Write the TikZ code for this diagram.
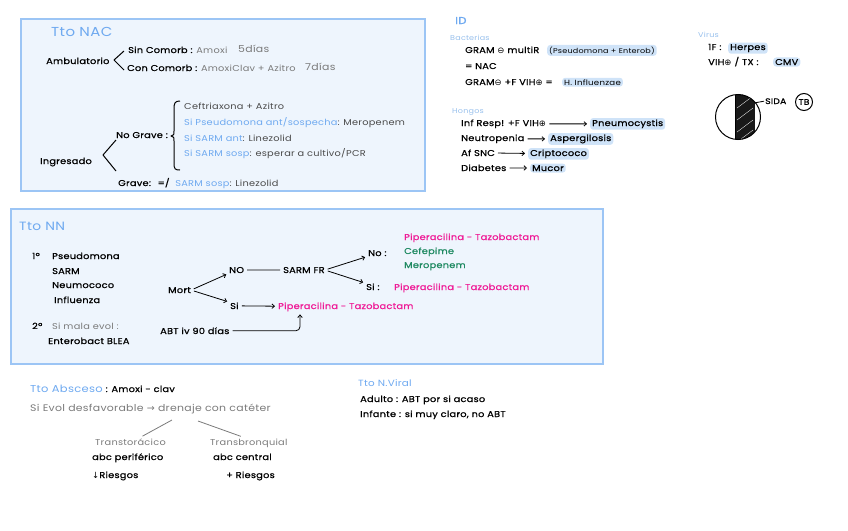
\documentclass[tikz,border=0pt]{standalone}
\usepackage{fontspec}
\setmainfont{Poppins}[FakeStretch=1.15, LetterSpace=3]
\newfontfamily\bkf{Poppins}[FakeStretch=1.15, LetterSpace=3, FakeBold=0.9]
\newfontfamily\symf{DejaVu Sans}
\usetikzlibrary{arrows.meta,calc}
\definecolor{boxfill}{HTML}{EEF5FD}
\definecolor{boxline}{HTML}{9CC5F5}
\definecolor{ttl}{HTML}{6EA9F0}
\definecolor{lbl}{HTML}{98C0EC}
\definecolor{gry}{HTML}{7A7A7A}
\definecolor{dgr}{HTML}{4A4A4A}
\definecolor{mag}{HTML}{EE1A96}
\definecolor{grn}{HTML}{1F8A62}
\definecolor{hlc}{HTML}{CFE3F8}
\newcommand{\mns}{{\symf ⊖}}
\newcommand{\pls}{{\symf ⊕}}
\newcommand{\gt}[1]{{\rmfamily\color{gry}#1}}
\newcommand{\bt}[1]{{\rmfamily\color{ttl}#1}}
\newcommand{\dt}[1]{{\rmfamily\color{dgr}#1}}
\begin{document}
\begin{tikzpicture}[x=1pt,y=-1pt,
  txt/.style={anchor=base west, inner sep=0pt, font=\bkf\fontsize{8.5}{10}\selectfont, text=black},
  thin/.style={txt, font=\rmfamily\fontsize{8.5}{10}\selectfont},
  ttlst/.style={txt, font=\rmfamily\fontsize{11}{13}\selectfont, text=ttl},
  sub/.style={txt, font=\rmfamily\fontsize{7}{8}\selectfont, text=lbl},
  hl/.style={txt, fill=hlc, rounded corners=3pt, inner xsep=2pt, inner ysep=1.5pt},
  boxst/.style={draw=boxline, fill=boxfill, line width=1.2pt},
  arr/.style={-{Straight Barb[length=2.5pt,width=4.5pt]}, line width=0.8pt, shorten <=3pt, shorten >=3pt},
  ln/.style={line width=0.8pt, shorten <=3pt, shorten >=3pt},
  angl/.style={line width=1pt, line join=round}
]
\useasboundingbox (0,0) rectangle (848,530);
% boxes
\draw[boxst] (21,19) rectangle (425,191);
\draw[boxst] (11,209) rectangle (603,364);

% ---------------- Tto NAC
\node[ttlst, font=\rmfamily\fontsize{13}{15}\selectfont] (t1) at (51,36) {Tto NAC};
\node[txt] (amb) at (46,64) {Ambulatorio};
\draw[angl] (124,51) -- (114,60) -- (124,70);
\node[txt] (sin) at (128,53) {Sin Comorb : \gt{Amoxi}};
\node[thin, text=gry, font=\rmfamily\fontsize{9.5}{11}\selectfont] (d5) at (238,52) {5días};
\node[txt] (con) at (127,71) {Con Comorb : \gt{AmoxiClav + Azitro}};
\node[thin, text=gry, font=\rmfamily\fontsize{9.5}{11}\selectfont] (d7) at (305,70) {7días};
\node[txt] (ing) at (40,164) {Ingresado};
\draw[angl] (116,140) -- (103,155) -- (116,171);
\node[txt] (nog) at (116,138) {No Grave :};
\draw[angl] (180,101) .. controls (175,101) and (174,103) .. (174,109) -- (174,131) .. controls (174,135) .. (171,136) .. controls (174,137) .. (174,141) -- (174,163) .. controls (174,169) and (175,170) .. (180,170);
\node[thin, text=dgr] (c1) at (184,109) {Ceftriaxona + Azitro};
\node[thin, text=ttl] (c2) at (184,125) {Si Pseudomona ant/sospecha\dt{ : Meropenem}};
\node[thin, text=ttl] (c3) at (184,141) {Si SARM ant\dt{ : Linezolid}};
\node[thin, text=ttl] (c4) at (184,156) {Si SARM sosp\dt{ : esperar a cultivo/PCR}};
\node[txt] (grv) at (118,186) {Grave: \ =/ \ \bt{SARM sosp}\dt{ : Linezolid}};

% ---------------- ID
\node[ttlst, font=\bkf\fontsize{10}{12}\selectfont] (id) at (455,24) {ID};
\node[sub] (bac) at (450,40) {Bacterias};
\node[txt] (g1) at (465,53) {GRAM \mns\ multiR};
\node[hl, font=\rmfamily\fontsize{7}{8}\selectfont] (g1h) at (547,53) {(Pseudomona + Enterob)};
\node[txt] (g2) at (465,69) {= NAC};
\node[txt] (g3) at (465,85) {GRAM\mns\ +F VIH\pls\ =};
\node[hl, font=\rmfamily\fontsize{7.5}{8}\selectfont] (g3h) at (562,85) {H. Influenzae};
\node[sub] (hon) at (452,113) {Hongos};
\node[txt] (h1) at (461,126) {Inf Resp! +F VIH\pls};
\node[hl] (h1h) at (590,126) {Pneumocystis};
\draw[arr] (h1) -- (h1h);
\node[txt] (h2) at (461,141) {Neutropenia};
\node[hl] (h2h) at (548,141) {Aspergilosis};
\draw[arr] (h2) -- (h2h);
\node[txt] (h3) at (461,156) {Af SNC};
\node[hl] (h3h) at (528,156) {Criptococo};
\draw[arr] (h3) -- (h3h);
\node[txt] (h4) at (461,171) {Diabetes};
\node[hl] (h4h) at (530,171) {Mucor};
\draw[arr] (h4) -- (h4h);

% ---------------- Virus
\node[sub] (vir) at (698,37) {Virus};
\node[txt] (v1) at (708,50) {1F :};
\node[hl] (v1h) at (728,50) {Herpes};
\node[txt] (v2) at (708,65) {VIH\pls\ / TX :};
\node[hl] (v2h) at (773,65) {CMV};
\begin{scope}
\clip (738,117) circle (22.5);
\fill[black!90] (735,90) rectangle (755,142);
\foreach \yy in {102,114,126,136}
  \draw[white, line width=0.3pt] (737,\yy+6) -- (753,\yy-6);
\end{scope}
\node[draw, circle, line width=1pt, minimum size=45pt, inner sep=0pt] (circ) at (738,117) {};
\draw[line width=0.9pt] (735,94.7) -- (735,139.3);
\node[txt, font=\bkf\fontsize{8}{10}\selectfont] (sida) at (765,104) {SIDA};
\draw[line width=0.8pt] ($(circ.north east)+(1,2)$) -- ($(sida.west)+(-1,0)$);
\node[draw, circle, line width=1pt, inner sep=1.5pt, minimum size=17pt, font=\bkf\fontsize{8}{10}\selectfont] (tb) at (804,102) {TB};

% ---------------- Tto NN
\node[ttlst, font=\rmfamily\fontsize{12}{14}\selectfont] (t2) at (19,230) {Tto NN};
\node[txt] (p1) at (32,259) {1º};
\node[txt] (pa) at (52,259) {Pseudomona};
\node[txt] (pb) at (52,274) {SARM};
\node[txt] (pc) at (52,288) {Neumococo};
\node[txt] (pd) at (54,303) {Influenza};
\node[txt] (p2) at (32,329) {2º};
\node[thin, text=gry] (pe) at (52,329) {Si mala evol :};
\node[txt] (pf) at (48,344) {Enterobact BLEA};
\node[txt] (mort) at (168,293) {Mort};
\node[txt] (no1) at (229,273) {NO};
\node[txt] (sarm) at (283,273) {SARM FR};
\node[txt] (si1) at (230,309) {Si};
\node[txt, text=mag] (pt1) at (278,309) {Piperacilina - Tazobactam};
\node[txt] (no2) at (368,256) {No :};
\node[txt, text=mag] (pt2) at (404,240) {Piperacilina - Tazobactam};
\node[txt, text=grn] (cef) at (404,254) {Cefepime};
\node[txt, text=grn] (mer) at (404,268) {Meropenem};
\node[txt] (si2) at (366,290) {Si :};
\node[txt, text=mag] (pt3) at (394,290) {Piperacilina - Tazobactam};
\node[txt] (abt) at (160,334) {ABT iv 90 días};
\draw[arr] (mort.east) -- (no1.south west);
\draw[arr] (mort.east) -- (si1.north west);
\draw[ln] (no1) -- (sarm);
\draw[arr] (sarm.east) -- (no2.south west);
\draw[arr] (sarm.east) -- (si2.north west);
\draw[arr] (si1) -- (pt1);
\coordinate (up) at ($(pt1.south west)+(22,0)$);
\draw[arr, rounded corners=4pt] (abt.east) -- (abt.east -| up) -- (up);

% ---------------- Tto Absceso
\node[ttlst, font=\rmfamily\fontsize{10}{12}\selectfont] (t3) at (30,392) {Tto Absceso\textcolor{black}{\bkf\fontsize{8.5}{10}\selectfont\ : Amoxi - clav}};
\node[thin, text=gry, font=\rmfamily\fontsize{9.5}{11}\selectfont] (dre) at (30,411) {Si Evol desfavorable {\symf →} drenaje con catéter};
\node[thin, text=gry] (tt) at (95,445) {Transtorácico};
\node[txt] (tt1) at (92,460) {abc periférico};
\node[txt] (tt2) at (92,478) {{\symf↓}Riesgos};
\node[thin, text=gry] (tbq) at (210,445) {Transbronquial};
\node[txt] (tb1) at (213,460) {abc central};
\node[txt] (tb2) at (226,478) {+ Riesgos};
\coordinate (s1) at (172,420);
\coordinate (s2) at (198,421);
\draw[line width=0.8pt, gry] (s1) -- ($(tt.north)+(12,-2)$);
\draw[line width=0.8pt, gry] (s2) -- ($(tbq.north)+(-8,-2)$);

% ---------------- Tto N.Viral
\node[ttlst, font=\rmfamily\fontsize{9}{11}\selectfont] (t4) at (358,386) {Tto N.Viral};
\node[txt] (nv1) at (360,402) {Adulto : ABT por si acaso};
\node[txt] (nv2) at (360,417) {Infante : si muy claro, no ABT};
\end{tikzpicture}
\end{document}
